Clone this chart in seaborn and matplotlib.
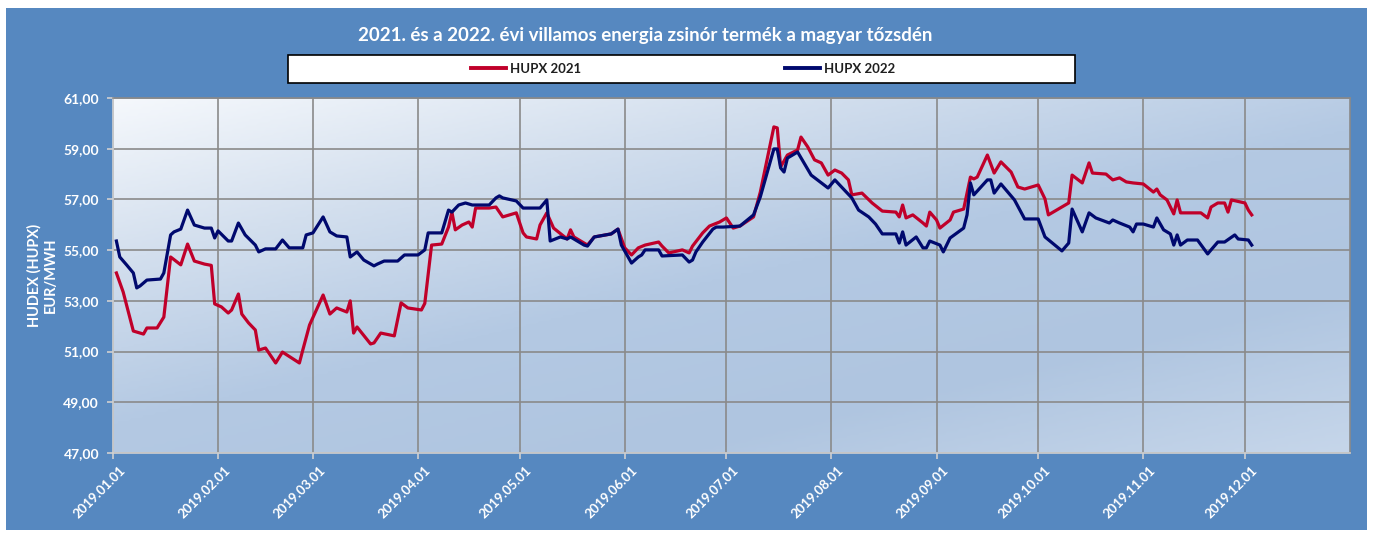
import numpy as np
import pandas as pd
import matplotlib
matplotlib.use('Agg')
import matplotlib.pyplot as plt
import matplotlib.dates as mdates
import matplotlib.transforms as mtransforms
from matplotlib.patches import Rectangle
from matplotlib.colors import LinearSegmentedColormap
from matplotlib.ticker import FuncFormatter
import seaborn as sns

# HUPX 2021 zsinór termék (EUR/MWh)
datum_2021 = [
    '2019-01-02', '2019-01-04', '2019-01-07', '2019-01-10', '2019-01-11', '2019-01-14', '2019-01-16',
    '2019-01-18', '2019-01-21', '2019-01-23', '2019-01-25', '2019-01-28', '2019-01-30', '2019-01-31',
    '2019-02-02', '2019-02-04', '2019-02-05', '2019-02-07', '2019-02-08', '2019-02-10', '2019-02-12',
    '2019-02-13', '2019-02-15', '2019-02-18', '2019-02-20', '2019-02-25', '2019-02-26', '2019-02-28',
    '2019-03-04', '2019-03-06', '2019-03-08', '2019-03-11', '2019-03-12', '2019-03-13', '2019-03-14',
    '2019-03-18', '2019-03-19', '2019-03-21', '2019-03-25', '2019-03-27', '2019-03-29', '2019-04-02',
    '2019-04-03', '2019-04-05', '2019-04-08', '2019-04-10', '2019-04-11', '2019-04-12', '2019-04-14',
    '2019-04-16', '2019-04-17', '2019-04-18', '2019-04-22', '2019-04-24', '2019-04-26', '2019-04-30',
    '2019-05-02', '2019-05-03', '2019-05-06', '2019-05-07', '2019-05-09', '2019-05-11', '2019-05-15',
    '2019-05-16', '2019-05-17', '2019-05-21', '2019-05-23', '2019-05-28', '2019-05-30', '2019-06-01',
    '2019-06-03', '2019-06-05', '2019-06-07', '2019-06-11', '2019-06-12', '2019-06-14', '2019-06-18',
    '2019-06-20', '2019-06-21', '2019-06-24', '2019-06-26', '2019-06-29', '2019-07-01', '2019-07-03',
    '2019-07-05', '2019-07-09', '2019-07-11', '2019-07-15', '2019-07-16', '2019-07-17', '2019-07-19',
    '2019-07-22', '2019-07-23', '2019-07-25', '2019-07-27', '2019-07-29', '2019-07-31', '2019-08-02',
    '2019-08-04', '2019-08-06', '2019-08-07', '2019-08-10', '2019-08-13', '2019-08-16', '2019-08-20',
    '2019-08-21', '2019-08-22', '2019-08-23', '2019-08-25', '2019-08-28', '2019-08-29', '2019-08-30',
    '2019-09-01', '2019-09-02', '2019-09-05', '2019-09-06', '2019-09-09', '2019-09-11', '2019-09-12',
    '2019-09-13', '2019-09-16', '2019-09-18', '2019-09-20', '2019-09-23', '2019-09-25', '2019-09-27',
    '2019-10-01', '2019-10-03', '2019-10-04', '2019-10-10', '2019-10-11', '2019-10-14', '2019-10-16',
    '2019-10-17', '2019-10-21', '2019-10-23', '2019-10-25', '2019-10-27', '2019-10-29', '2019-11-01',
    '2019-11-04', '2019-11-05', '2019-11-06', '2019-11-08', '2019-11-10', '2019-11-11', '2019-11-12',
    '2019-11-18', '2019-11-20', '2019-11-21', '2019-11-23', '2019-11-25', '2019-11-26', '2019-11-27',
    '2019-12-01', '2019-12-02', '2019-12-03',
]
hupx_2021 = [
    54.10, 53.35, 51.81, 51.69, 51.93, 51.93, 52.36,
    54.73, 54.42, 55.24, 54.57, 54.45, 54.40, 52.88,
    52.76, 52.52, 52.64, 53.27, 52.48, 52.13, 51.85,
    51.06, 51.14, 50.55, 50.98, 50.55, 51.06, 52.05,
    53.23, 52.48, 52.72, 52.56, 53.00, 51.73, 51.97,
    51.30, 51.34, 51.73, 51.62, 52.92, 52.72, 52.64,
    52.90, 55.20, 55.24, 55.91, 56.50, 55.80, 55.99,
    56.11, 55.91, 56.66, 56.66, 56.70, 56.31, 56.47,
    55.68, 55.52, 55.44, 55.99, 56.47, 55.87, 55.44,
    55.80, 55.52, 55.20, 55.52, 55.64, 55.83, 55.09,
    54.81, 55.09, 55.20, 55.32, 55.16, 54.89, 55.01,
    54.89, 55.16, 55.68, 55.95, 56.11, 56.27, 55.87,
    55.95, 56.31, 57.29, 59.86, 59.82, 58.28, 58.75,
    58.95, 59.46, 59.07, 58.56, 58.44, 57.96, 58.16,
    58.04, 57.77, 57.18, 57.25, 56.86, 56.54, 56.50,
    56.31, 56.78, 56.27, 56.39, 56.07, 55.95, 56.50,
    56.19, 55.87, 56.19, 56.50, 56.62, 57.88, 57.81,
    57.88, 58.75, 58.04, 58.48, 58.08, 57.49, 57.41,
    57.57, 57.02, 56.39, 56.86, 57.96, 57.65, 58.44,
    58.04, 58.00, 57.77, 57.85, 57.69, 57.65, 57.61,
    57.29, 57.41, 57.18, 56.98, 56.43, 56.98, 56.47,
    56.47, 56.27, 56.70, 56.86, 56.86, 56.50, 56.98,
    56.86, 56.58, 56.39,
]

# HUPX 2022 zsinór termék (EUR/MWh)
datum_2022 = [
    '2019-01-02', '2019-01-03', '2019-01-05', '2019-01-07', '2019-01-08', '2019-01-09', '2019-01-11',
    '2019-01-15', '2019-01-16', '2019-01-18', '2019-01-19', '2019-01-21', '2019-01-23', '2019-01-25',
    '2019-01-28', '2019-01-30', '2019-01-31', '2019-02-01', '2019-02-04', '2019-02-05', '2019-02-07',
    '2019-02-09', '2019-02-12', '2019-02-13', '2019-02-15', '2019-02-18', '2019-02-20', '2019-02-22',
    '2019-02-26', '2019-02-27', '2019-03-01', '2019-03-04', '2019-03-06', '2019-03-08', '2019-03-11',
    '2019-03-12', '2019-03-14', '2019-03-16', '2019-03-19', '2019-03-20', '2019-03-22', '2019-03-26',
    '2019-03-28', '2019-04-01', '2019-04-03', '2019-04-04', '2019-04-08', '2019-04-10', '2019-04-11',
    '2019-04-13', '2019-04-15', '2019-04-17', '2019-04-22', '2019-04-24', '2019-04-25', '2019-04-26',
    '2019-04-30', '2019-05-02', '2019-05-07', '2019-05-09', '2019-05-10', '2019-05-13', '2019-05-15',
    '2019-05-16', '2019-05-20', '2019-05-21', '2019-05-23', '2019-05-28', '2019-05-30', '2019-05-31',
    '2019-06-03', '2019-06-05', '2019-06-06', '2019-06-07', '2019-06-11', '2019-06-12', '2019-06-18',
    '2019-06-20', '2019-06-21', '2019-06-22', '2019-06-24', '2019-06-27', '2019-06-28', '2019-06-30',
    '2019-07-05', '2019-07-09', '2019-07-11', '2019-07-15', '2019-07-16', '2019-07-17', '2019-07-18',
    '2019-07-19', '2019-07-22', '2019-07-26', '2019-07-31', '2019-08-02', '2019-08-07', '2019-08-09',
    '2019-08-12', '2019-08-14', '2019-08-16', '2019-08-20', '2019-08-21', '2019-08-22', '2019-08-23',
    '2019-08-26', '2019-08-28', '2019-08-29', '2019-08-30', '2019-09-02', '2019-09-03', '2019-09-05',
    '2019-09-09', '2019-09-10', '2019-09-11', '2019-09-12', '2019-09-16', '2019-09-17', '2019-09-18',
    '2019-09-20', '2019-09-24', '2019-09-27', '2019-10-01', '2019-10-03', '2019-10-08', '2019-10-10',
    '2019-10-11', '2019-10-14', '2019-10-16', '2019-10-18', '2019-10-22', '2019-10-23', '2019-10-25',
    '2019-10-28', '2019-10-29', '2019-10-30', '2019-11-01', '2019-11-04', '2019-11-05', '2019-11-07',
    '2019-11-09', '2019-11-10', '2019-11-11', '2019-11-12', '2019-11-14', '2019-11-17', '2019-11-20',
    '2019-11-21', '2019-11-23', '2019-11-25', '2019-11-28', '2019-11-29', '2019-12-02', '2019-12-03',
]
hupx_2022 = [
    55.36, 54.73, 54.42, 54.10, 53.51, 53.59, 53.82,
    53.86, 54.10, 55.60, 55.72, 55.83, 56.58, 55.99,
    55.87, 55.87, 55.48, 55.76, 55.36, 55.36, 56.07,
    55.60, 55.20, 54.93, 55.05, 55.05, 55.40, 55.09,
    55.09, 55.60, 55.68, 56.31, 55.72, 55.56, 55.52,
    54.73, 54.93, 54.61, 54.38, 54.45, 54.57, 54.57,
    54.81, 54.81, 55.01, 55.68, 55.68, 56.58, 56.50,
    56.78, 56.86, 56.78, 56.78, 57.06, 57.14, 57.06,
    56.94, 56.66, 56.66, 56.98, 55.36, 55.52, 55.44,
    55.52, 55.20, 55.16, 55.52, 55.64, 55.83, 55.20,
    54.49, 54.73, 54.81, 55.01, 55.01, 54.77, 54.81,
    54.53, 54.61, 54.93, 55.32, 55.83, 55.91, 55.91,
    55.95, 56.39, 57.10, 58.99, 58.99, 58.24, 58.08,
    58.63, 58.87, 57.96, 57.45, 57.77, 57.06, 56.58,
    56.31, 56.03, 55.64, 55.64, 55.28, 55.72, 55.20,
    55.52, 55.09, 55.09, 55.36, 55.20, 54.93, 55.48,
    55.87, 56.39, 57.65, 57.18, 57.77, 57.77, 57.25,
    57.61, 56.98, 56.23, 56.23, 55.52, 54.97, 55.28,
    56.62, 55.72, 56.47, 56.27, 56.07, 56.19, 56.07,
    55.91, 55.72, 56.03, 56.03, 55.91, 56.27, 55.80,
    55.64, 55.20, 55.60, 55.20, 55.40, 55.40, 54.85,
    55.01, 55.32, 55.32, 55.60, 55.44, 55.40, 55.20,
]

sorozatok = ['HUPX 2021', 'HUPX 2022']
szinek = ['#C0002A', '#00096E']
honapok = pd.date_range('2019-01-01', '2019-12-01', freq='MS')
y_tickek = np.arange(47, 62, 2)

df = pd.concat([
    pd.DataFrame({'datum': pd.to_datetime(datum_2021), 'ar': hupx_2021, 'termek': sorozatok[0]}),
    pd.DataFrame({'datum': pd.to_datetime(datum_2022), 'ar': hupx_2022, 'termek': sorozatok[1]}),
])

hatter = '#5688C0'
betu = 'Lato'

fig = plt.figure(figsize=(13.73, 5.33), dpi=100)
fig.patch.set_facecolor('white')
fig.add_artist(Rectangle((6 / 1373, 3 / 533), 1361 / 1373, 522 / 533,
                         transform=fig.transFigure, facecolor=hatter, edgecolor='none', zorder=0))

pos = [113 / 1373, 1 - 453 / 533, (1350 - 113) / 1373, (453 - 98) / 533]

# átmenetes háttér a rajzterülethez
bg = fig.add_axes(pos, zorder=1)
xx, yy = np.meshgrid(np.linspace(0, 1, 300), np.linspace(0, 1, 120))
t = (xx * 0.75 + yy * 0.9) / 1.65
cmap = LinearSegmentedColormap.from_list('bg', ['#F5F8FC', '#D3DFEE', '#B4C9E3', '#AFC5E0', '#C6D6EA'])
bg.imshow(t, cmap=cmap, extent=[0, 1, 0, 1], aspect='auto', origin='upper', vmin=0, vmax=1)
bg.axis('off')

ax = fig.add_axes(pos, zorder=2)
ax.set_facecolor('none')
sns.lineplot(data=df, x='datum', y='ar', hue='termek', palette=szinek, hue_order=sorozatok,
             estimator=None, linewidth=2.3, ax=ax, legend=False)

ax.set_xlim(pd.Timestamp('2019-01-01'), pd.Timestamp('2020-01-01'))
ax.set_ylim(47, 61)
ax.set_xticks(honapok)
ax.xaxis.set_major_formatter(mdates.DateFormatter('%Y.%m.%d'))
ax.set_yticks(y_tickek)
ax.yaxis.set_major_formatter(FuncFormatter(lambda v, p: f'{v:.2f}'.replace('.', ',')))
ax.grid(True, color='#8A8A8A', linewidth=1.2)
ax.set_axisbelow(True)
for s in ['top', 'right']:
    ax.spines[s].set_color('#8A8A8A')
    ax.spines[s].set_linewidth(1.2)
for s in ['left', 'bottom']:
    ax.spines[s].set_color('#D0D0D0')
    ax.spines[s].set_linewidth(1.2)
ax.tick_params(axis='both', colors='#D0D0D0', length=4, width=1.2)
ax.tick_params(axis='x', pad=4)
ax.tick_params(axis='y', pad=6)

eltolas = mtransforms.ScaledTranslation(6 / 100, 0, fig.dpi_scale_trans)
for lab in ax.get_xticklabels():
    lab.set_rotation(45)
    lab.set_ha('right')
    lab.set_rotation_mode('anchor')
    lab.set_color('white')
    lab.set_fontweight('bold')
    lab.set_fontsize(9.5)
    lab.set_family(betu)
    lab.set_transform(lab.get_transform() + eltolas)
for lab in ax.get_yticklabels():
    lab.set_color('white')
    lab.set_fontweight('bold')
    lab.set_fontsize(10)
    lab.set_family(betu)
ax.set_xlabel('')
ax.set_ylabel('HUDEX (HUPX)\nEUR/MWH', color='white', fontweight='bold', fontsize=10.5,
              family=betu, labelpad=4)

fig.text(645 / 1373, 1 - 35 / 533, '2021. és a 2022. évi villamos energia zsinór termék a magyar tőzsdén',
         ha='center', va='center', color='white', fontweight='bold', fontsize=13.5, family=betu)

# jelmagyarázat doboz
fig.add_artist(Rectangle((288 / 1373, 1 - 83 / 533), (1075 - 288) / 1373, 28 / 533,
                         transform=fig.transFigure, facecolor='white', edgecolor='black',
                         linewidth=1.2, zorder=3))
kezelok = [plt.Line2D([], [], color=c, linewidth=2.8) for c in szinek]
leg = fig.legend(kezelok, sorozatok, loc='center', bbox_to_anchor=(683 / 1373, 1 - 69 / 533),
                 ncol=2, frameon=False, columnspacing=15.5, handlelength=2.6, handletextpad=0.3,
                 prop={'family': betu, 'weight': 'bold', 'size': 9.5})
leg.set_zorder(4)
for txt in leg.get_texts():
    txt.set_color('#1F1F1F')

fig.savefig('out.png', dpi=100, facecolor=fig.get_facecolor())
